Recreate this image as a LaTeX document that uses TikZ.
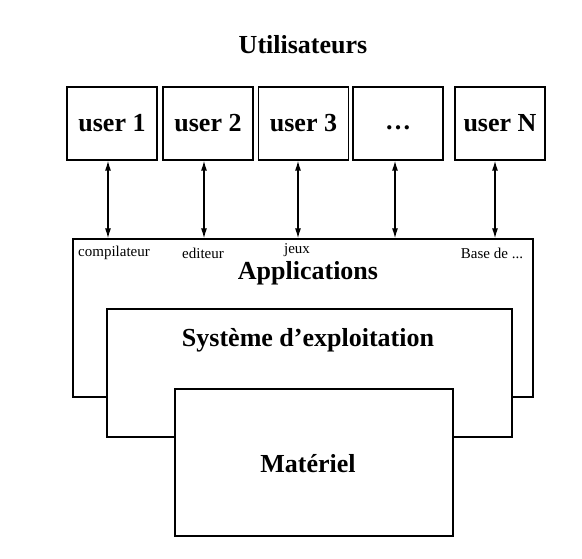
\documentclass[tikz,border=0pt]{standalone}
\usepackage{fontspec}
\setmainfont{Liberation Serif}
\usetikzlibrary{arrows.meta}
\begin{document}
\begin{tikzpicture}[x=1pt,y=1pt,
  box/.style={draw,line width=1.3pt,fill=white,inner sep=0pt},
  userbox/.style={box,minimum width=90pt,minimum height=73pt,font=\fontsize{26}{30}\selectfont\bfseries},
  bigtxt/.style={font=\fontsize{26}{30}\selectfont\bfseries,inner sep=0pt},
  smalltxt/.style={font=\fontsize{15}{17}\selectfont,inner sep=0pt},
  link/.style={line width=1.3pt,{Latex[length=10pt,width=6pt]}-{Latex[length=10pt,width=6pt]}}]
\useasboundingbox (0,0) rectangle (582,558);
\node[bigtxt] (title) at (303,513) {Utilisateurs};
\node[userbox] (u1) at (112,434.5) {user 1};
\node[userbox] (u2) at (208,434.5) {user 2};
\node[userbox] (u3) at (303.5,434.5) {user 3};
\node[userbox] (u4) at (398,434.5) {\vphantom{user}…};
\node[userbox] (u5) at (500,434.5) {user N};
\node[box,minimum width=460pt,minimum height=158pt] (apps) at (303,240) {};
\node[box,minimum width=405pt,minimum height=128pt] (sys) at (309.5,185) {};
\node[box,minimum width=278pt,minimum height=147pt] (mat) at (314,95.5) {};
\node[bigtxt] (mattxt) at (308,94) {Matériel};
\node[bigtxt] (appstxt) at (308,285) {Applications};
\node[bigtxt] (systxt) at (308,218) {Système d’exploitation};
\node[smalltxt] (l1) at (114,305) {compilateur};
\node[smalltxt] (l2) at (203,305) {editeur};
\node[smalltxt] (l3) at (297,308) {jeux};
\node[smalltxt] (l5) at (492,305) {Base de ...};
\foreach \u/\s in {u1/-4,u2/-4,u3/-5.5,u4/-3,u5/-5}
  \draw[link] ([xshift=\s pt]\u.south) -- ([xshift=\s pt]\u.south |- apps.north);
\end{tikzpicture}
\end{document}
